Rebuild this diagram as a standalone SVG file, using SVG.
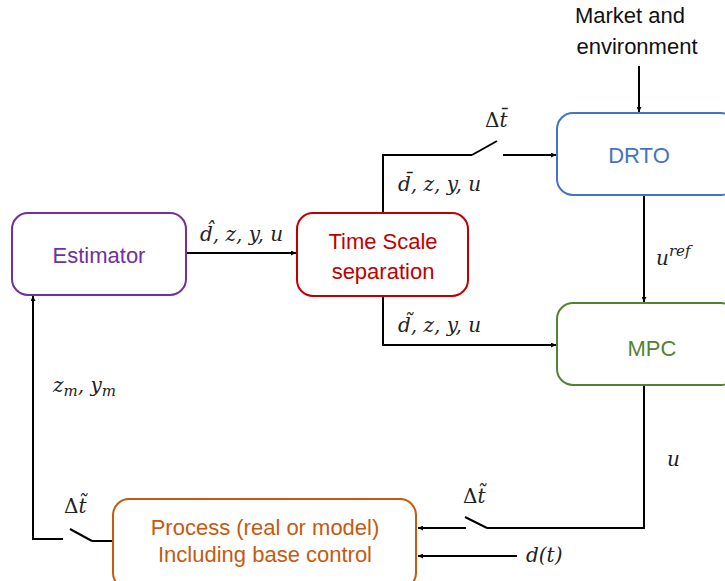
<svg xmlns="http://www.w3.org/2000/svg" width="725" height="581" viewBox="0 0 725 581">
<defs>
<marker id="ah" viewBox="0 0 10 10" refX="10" refY="5" markerWidth="5" markerHeight="5" orient="auto-start-reverse" markerUnits="userSpaceOnUse">
<path d="M0,0 L10,5 L0,10 z" fill="#000"/>
</marker>
<style>
.box{fill:#fff;stroke-width:2}
.lbl{font-family:"Liberation Sans",Arial,sans-serif;font-size:22px;text-anchor:middle}
.math{font-family:"DejaVu Serif","Liberation Serif",serif;font-style:italic;font-size:20px;fill:#222}
.up{font-style:normal}
.ln{fill:none;stroke:#000;stroke-width:2}
.sw{fill:none;stroke:#000;stroke-width:2}
</style>
</defs>
<rect width="725" height="581" fill="#fff"/>
<text class="lbl" x="630" y="23" fill="#111">Market and</text>
<text class="lbl" x="637" y="54" fill="#111">environment</text>

<g id="connectors">
<line class="ln" x1="639" y1="66" x2="639" y2="112" marker-end="url(#ah)"/>
<line class="ln" x1="186" y1="253" x2="296" y2="253" marker-end="url(#ah)"/>
<polyline class="ln" points="383,213 383,155 472,155"/>
<line class="sw" x1="472" y1="155" x2="497" y2="141"/>
<line class="ln" x1="503" y1="155" x2="556" y2="155" marker-end="url(#ah)"/>
<polyline class="ln" points="383,296 383,345 556,345" marker-end="url(#ah)"/>
<line class="ln" x1="644" y1="195" x2="644" y2="302" marker-end="url(#ah)"/>
<polyline class="ln" points="644,385 644,528 487,528"/>
<line class="sw" x1="487" y1="528" x2="465" y2="517"/>
<line class="ln" x1="466" y1="528" x2="418" y2="528" marker-end="url(#ah)"/>
<line class="ln" x1="517" y1="556" x2="418" y2="556" marker-end="url(#ah)"/>
<line class="ln" x1="113" y1="541" x2="92" y2="541"/>
<line class="sw" x1="92" y1="541" x2="70" y2="529"/>
<polyline class="ln" points="63,539 33,539 33,296" marker-end="url(#ah)"/>
</g>

<g id="labels">
<text class="math" x="200" y="241">d̂, z, y, u</text>
<text class="math" x="485" y="127"><tspan class="up">Δ</tspan>t̄</text>
<text class="math" x="398" y="191">d̄, z, y, u</text>
<text class="math" x="398" y="332">d̃, z, y, u</text>
<text class="math" x="656" y="265">u<tspan dy="-9" font-size="15">ref</tspan></text>
<text class="math" x="667" y="466">u</text>
<text class="math" x="463" y="503"><tspan class="up">Δ</tspan>t̃</text>
<text class="math" x="526" y="562">d(t)</text>
<text class="math" x="64" y="513"><tspan class="up">Δ</tspan>t̃</text>
<text class="math" x="53" y="392">z<tspan dy="4" font-size="15">m</tspan><tspan dy="-4">, y</tspan><tspan dy="4" font-size="15">m</tspan></text>
</g>

<g id="drto">
<rect class="box" x="557" y="113" width="180" height="82" rx="16" stroke="#4472C4"/>
<text class="lbl" x="639" y="163" fill="#4472C4">DRTO</text>
</g>
<g id="mpc">
<rect class="box" x="557" y="303" width="180" height="82" rx="16" stroke="#548235"/>
<text class="lbl" x="652" y="356" fill="#548235">MPC</text>
</g>
<g id="estimator">
<rect class="box" x="12" y="213" width="174" height="82" rx="16" stroke="#7030A0"/>
<text class="lbl" x="99" y="263" fill="#7030A0">Estimator</text>
</g>
<g id="timescale">
<rect class="box" x="297" y="213" width="171" height="83" rx="16" stroke="#C00000"/>
<text class="lbl" x="383" y="249" fill="#C00000">Time Scale</text>
<text class="lbl" x="383" y="279" fill="#C00000">separation</text>
</g>
<g id="process">
<rect class="box" x="113" y="499" width="303" height="90" rx="16" stroke="#C55A11"/>
<text class="lbl" x="265" y="535" fill="#C55A11" font-size="23">Process (real or model)</text>
<text class="lbl" x="265" y="562" fill="#C55A11" font-size="18">Including base control</text>
</g>
</svg>
